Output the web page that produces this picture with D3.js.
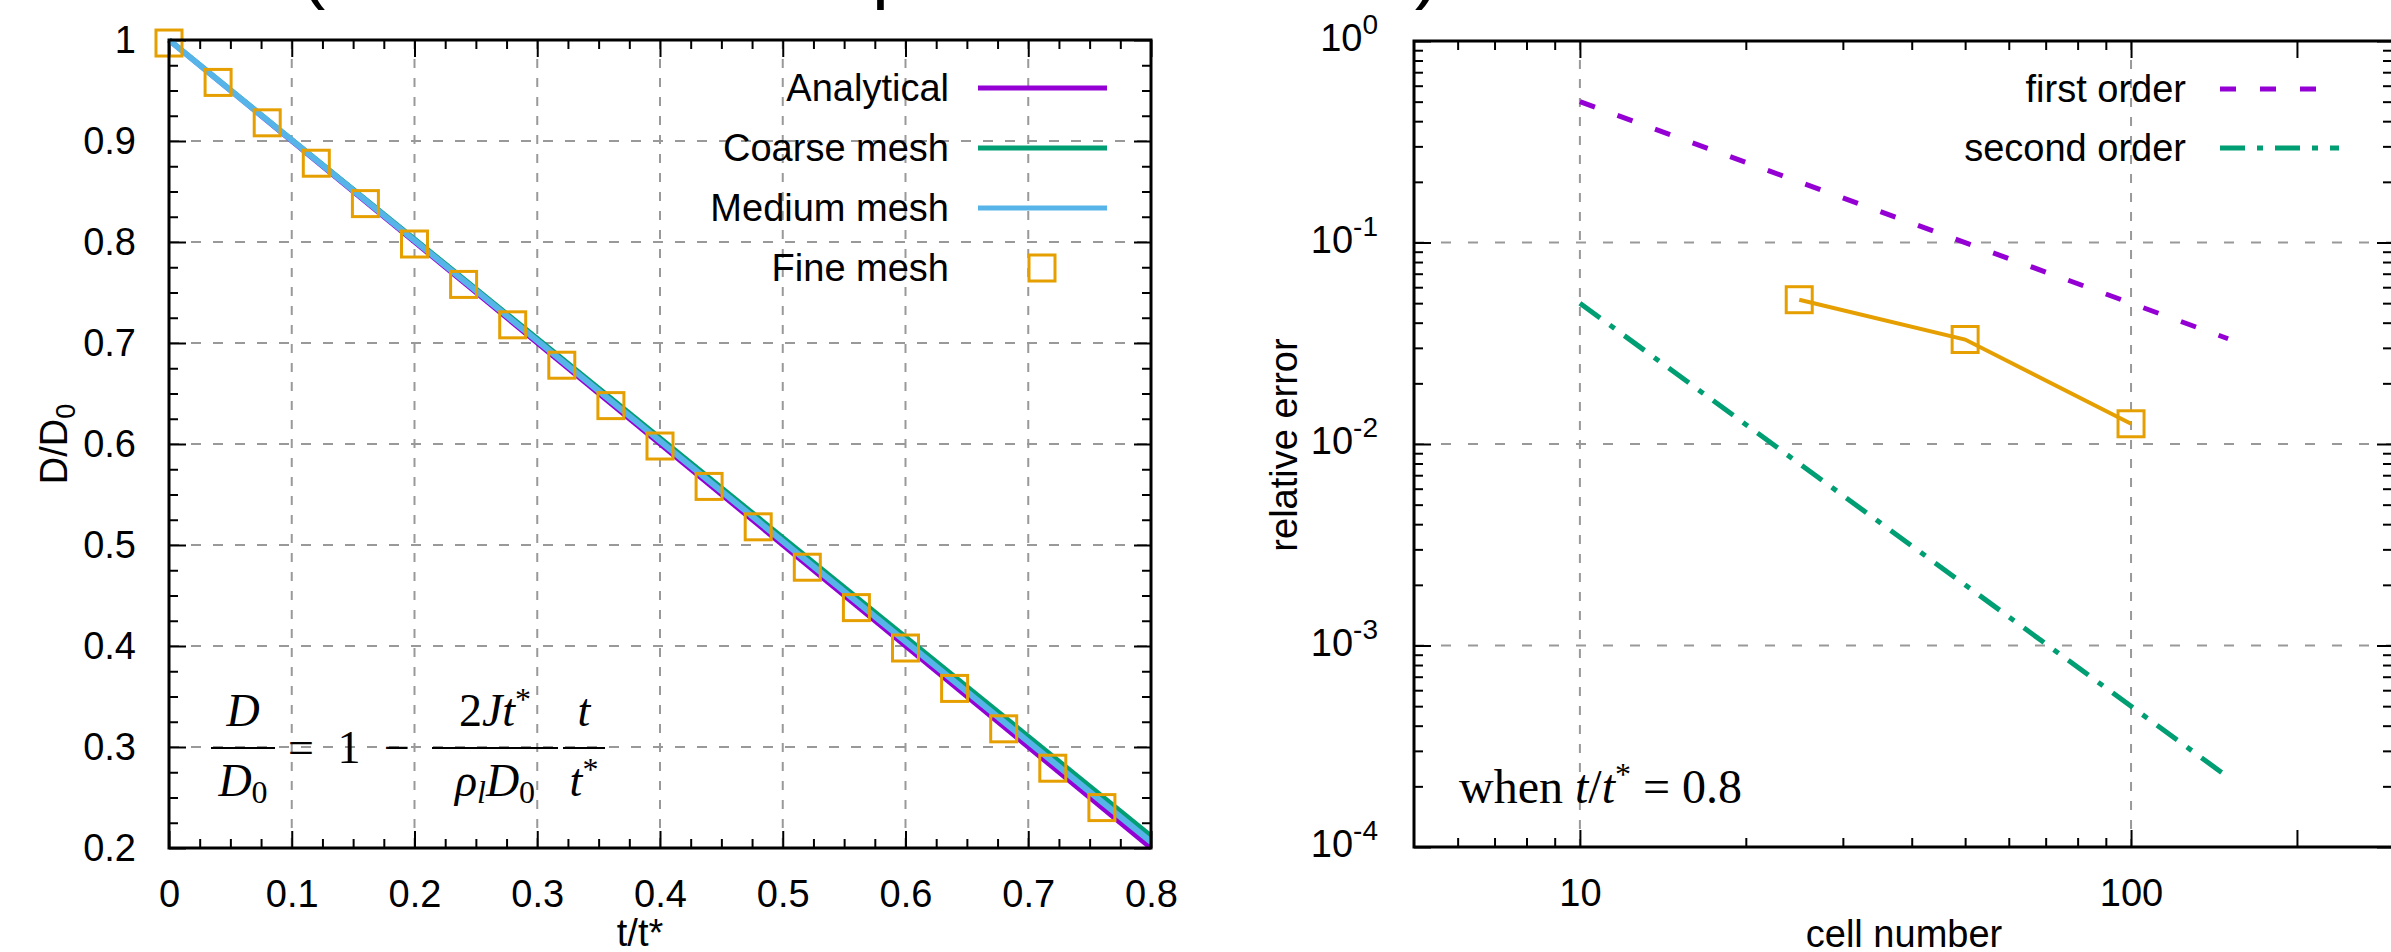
<!DOCTYPE html>
<html>
<head>
<meta charset="utf-8">
<script src="https://cdn.jsdelivr.net/npm/d3@7"></script>
<style>
  body { margin: 0; background: #fff; }
  text { font-family: "Liberation Sans", Arial, sans-serif; }
  text.math, .math text { font-family: "Liberation Serif", "Times New Roman", serif; }
</style>
</head>
<body>
<svg id="fig" width="2391" height="952"></svg>
<script>
// ---- left panel: D/D0 against t/t* ----
const tTicks = [0, 0.1, 0.2, 0.3, 0.4, 0.5, 0.6, 0.7, 0.8]
const dTicks = [0.2, 0.3, 0.4, 0.5, 0.6, 0.7, 0.8, 0.9, 1]
const analytical = [[0, 1], [0.8, 0.2]]
const coarseMesh = [[0, 1], [0.8, 0.212]]
const mediumMesh = [[0, 1], [0.8, 0.206]]
const fineT = [0, 0.04, 0.08, 0.12, 0.16, 0.2, 0.24, 0.28, 0.32, 0.36, 0.4, 0.44, 0.48, 0.52, 0.56, 0.6, 0.64, 0.68, 0.72, 0.76]
const fineD = [0.997, 0.958, 0.918, 0.878, 0.838, 0.798, 0.758, 0.718, 0.678, 0.638, 0.598, 0.558, 0.518, 0.478, 0.438, 0.398, 0.358, 0.318, 0.279, 0.24]
const leftLegend = ['Analytical', 'Coarse mesh', 'Medium mesh', 'Fine mesh']

// ---- right panel: relative error against cell number ----
const cellTicks = [10, 100, 200]
const cellLabels = [10, 100]
const errTicks = [1e-4, 1e-3, 1e-2, 1e-1, 1]
const errExp = [-4, -3, -2, -1, 0]
const firstOrder = [[10, 0.5], [150, 0.0333]]
const secondOrder = [[10, 0.05], [150, 0.000222]]
const fineCells = [25, 50, 100]
const fineErr = [0.052, 0.033, 0.0126]
const rightLegend = ['first order', 'second order']

const colors = { purple: '#9400d3', green: '#009e73', blue: '#56b4e9', orange: '#e69f00' }
const FS = 38

const svg = d3.select('#fig')

// cut-off slide title at the very top
svg.append('text').attr('x', 195).attr('y', -6).attr('text-anchor', 'end')
    .style('font-size', '76px').text('Test cases')
svg.append('text').attr('x', 300).attr('y', -6).attr('textLength', 1140)
    .style('font-size', '76px').text('(constant evaporation rate)')

function styleAxis(g, showText) {
    g.select('.domain').remove()
    g.selectAll('.tick line').attr('stroke', '#000').attr('stroke-width', 2)
    if (!showText) g.selectAll('.tick text').remove()
    else g.selectAll('.tick text').style('font-size', FS + 'px')
        .style('font-family', '"Liberation Sans", Arial, sans-serif').attr('fill', '#000')
}

function frame(x0, y0, x1, y1) {
    svg.append('rect').attr('x', x0).attr('y', y0).attr('width', x1 - x0).attr('height', y1 - y0)
        .attr('fill', 'none').attr('stroke', '#000').attr('stroke-width', 3)
}

// ================= LEFT PANEL =================
let L = { x0: 169, x1: 1151, y0: 40, y1: 848 }
let xL = d3.scaleLinear().domain([0, 0.8]).range([L.x0, L.x1])
let yL = d3.scaleLinear().domain([0.2, 1]).range([L.y1, L.y0])
let minorT = d3.range(0, 0.8001, 0.025).filter((d, i) => i % 4 != 0)
let minorD = d3.range(0.2, 1.0001, 0.025).filter((d, i) => i % 4 != 0)

// grid
let gl = svg.append('g')
gl.selectAll('.vg').data(tTicks.slice(1, -1)).enter().append('line')
    .attr('x1', d => xL(d)).attr('x2', d => xL(d)).attr('y1', L.y0).attr('y2', L.y1)
    .attr('stroke', '#999').attr('stroke-width', 2).attr('stroke-dasharray', '9,10')
gl.selectAll('.hg').data(dTicks.slice(1, -1)).enter().append('line')
    .attr('x1', L.x0).attr('x2', L.x1).attr('y1', d => yL(d)).attr('y2', d => yL(d))
    .attr('stroke', '#999').attr('stroke-width', 2).attr('stroke-dasharray', '10,12')

// ticks (inward, mirrored)
let fmt = d3.format('~g')
svg.append('g').attr('transform', `translate(0,${L.y1})`)
    .call(d3.axisBottom(xL).tickValues(tTicks).tickSize(-17).tickPadding(32).tickFormat(fmt))
    .call(g => styleAxis(g, true))
svg.append('g').attr('transform', `translate(0,${L.y1})`)
    .call(d3.axisBottom(xL).tickValues(minorT).tickSize(-9)).call(g => styleAxis(g, false))
svg.append('g').attr('transform', `translate(0,${L.y0})`)
    .call(d3.axisTop(xL).tickValues(tTicks).tickSize(-17)).call(g => styleAxis(g, false))
svg.append('g').attr('transform', `translate(0,${L.y0})`)
    .call(d3.axisTop(xL).tickValues(minorT).tickSize(-9)).call(g => styleAxis(g, false))
svg.append('g').attr('transform', `translate(${L.x0},0)`)
    .call(d3.axisLeft(yL).tickValues(dTicks).tickSize(-17).tickPadding(33).tickFormat(fmt))
    .call(g => styleAxis(g, true))
svg.append('g').attr('transform', `translate(${L.x0},0)`)
    .call(d3.axisLeft(yL).tickValues(minorD).tickSize(-9)).call(g => styleAxis(g, false))
svg.append('g').attr('transform', `translate(${L.x1},0)`)
    .call(d3.axisRight(yL).tickValues(dTicks).tickSize(-17)).call(g => styleAxis(g, false))
svg.append('g').attr('transform', `translate(${L.x1},0)`)
    .call(d3.axisRight(yL).tickValues(minorD).tickSize(-9)).call(g => styleAxis(g, false))

// formula
let fx = svg.append('g').attr('class', 'math').style('font-size', '46px')
function frac(cx, num, den, w) {
    fx.append('text').attr('x', cx).attr('y', 726).attr('text-anchor', 'middle').html(num)
    fx.append('line').attr('x1', cx - w / 2).attr('x2', cx + w / 2).attr('y1', 748).attr('y2', 748)
        .attr('stroke', '#000').attr('stroke-width', 2)
    fx.append('text').attr('x', cx).attr('y', 796).attr('text-anchor', 'middle').html(den)
}
frac(243, '<tspan font-style="italic">D</tspan>',
    '<tspan font-style="italic">D</tspan><tspan font-size="32" dy="7">0</tspan>', 64)
fx.append('text').attr('x', 288).attr('y', 763).attr('textLength', 122).text('= 1 −')
frac(495, '2<tspan font-style="italic">Jt</tspan><tspan font-size="32" dy="-16">*</tspan>',
    '<tspan font-style="italic">ρ</tspan><tspan font-size="32" font-style="italic" dy="7">l</tspan><tspan font-style="italic" dy="-7">D</tspan><tspan font-size="32" dy="7">0</tspan>', 126)
frac(584, '<tspan font-style="italic">t</tspan>',
    '<tspan font-style="italic">t</tspan><tspan font-size="32" dy="-16">*</tspan>', 42)

// data
let lineL = d3.line().x(d => xL(d[0])).y(d => yL(d[1]))
svg.append('path').datum(analytical).attr('d', lineL).attr('fill', 'none')
    .attr('stroke', colors.purple).attr('stroke-width', 5)
svg.append('path').datum(coarseMesh).attr('d', lineL).attr('fill', 'none')
    .attr('stroke', colors.green).attr('stroke-width', 5)
svg.append('path').datum(mediumMesh).attr('d', lineL).attr('fill', 'none')
    .attr('stroke', colors.blue).attr('stroke-width', 6)
svg.append('g').selectAll('rect').data(fineT).enter().append('rect')
    .attr('x', (d, i) => xL(d) - 13).attr('y', (d, i) => yL(fineD[i]) - 13)
    .attr('width', 26).attr('height', 26).attr('fill', 'none')
    .attr('stroke', colors.orange).attr('stroke-width', 3)

frame(L.x0, L.y0, L.x1, L.y1)

// legend
let lgL = svg.append('g')
leftLegend.forEach((name, i) => {
    let y = 88 + i * 60
    lgL.append('text').attr('x', 949).attr('y', y + 13).attr('text-anchor', 'end')
        .style('font-size', FS + 'px').text(name)
    if (i < 3) {
        let c = [colors.purple, colors.green, colors.blue][i]
        lgL.append('line').attr('x1', 978).attr('x2', 1107).attr('y1', y).attr('y2', y)
            .attr('stroke', c).attr('stroke-width', 5)
    } else {
        lgL.append('rect').attr('x', 1042 - 13).attr('y', y - 13).attr('width', 26).attr('height', 26)
            .attr('fill', 'none').attr('stroke', colors.orange).attr('stroke-width', 3)
    }
})

// axis titles
svg.append('text').attr('x', 640).attr('y', 946).attr('text-anchor', 'middle')
    .style('font-size', FS + 'px').text('t/t*')
svg.append('text').attr('transform', `translate(67,444) rotate(-90)`).attr('text-anchor', 'middle')
    .style('font-size', FS + 'px').html('D/D<tspan font-size="27" dy="8">0</tspan>')

// ================= RIGHT PANEL =================
let R = { x0: 1414, x1: 2394, y0: 41, y1: 847 }
let xR = d3.scaleLog().domain([5, 300]).range([R.x0, R.x1])
let yR = d3.scaleLog().domain([1e-4, 1]).range([R.y1, R.y0])
let minorC = [6, 7, 8, 9, 20, 30, 40, 50, 60, 70, 80, 90]
let minorE = []
errExp.slice(0, -1).forEach(e => { for (let k = 2; k < 10; k++) minorE.push(k * Math.pow(10, e)) })

let gr = svg.append('g')
gr.selectAll('.vg').data([10, 100]).enter().append('line')
    .attr('x1', d => xR(d)).attr('x2', d => xR(d)).attr('y1', R.y0).attr('y2', R.y1)
    .attr('stroke', '#999').attr('stroke-width', 2).attr('stroke-dasharray', '9,10')
gr.selectAll('.hg').data(errTicks.slice(1, -1)).enter().append('line')
    .attr('x1', R.x0).attr('x2', R.x1).attr('y1', d => yR(d)).attr('y2', d => yR(d))
    .attr('stroke', '#999').attr('stroke-width', 2).attr('stroke-dasharray', '10,17')

svg.append('g').attr('transform', `translate(0,${R.y1})`)
    .call(d3.axisBottom(xR).tickValues(cellTicks).tickSize(-17).tickPadding(32)
        .tickFormat(d => cellLabels.includes(d) ? d : ''))
    .call(g => styleAxis(g, true))
svg.append('g').attr('transform', `translate(0,${R.y1})`)
    .call(d3.axisBottom(xR).tickValues(minorC).tickSize(-9)).call(g => styleAxis(g, false))
svg.append('g').attr('transform', `translate(0,${R.y0})`)
    .call(d3.axisTop(xR).tickValues(cellTicks).tickSize(-17)).call(g => styleAxis(g, false))
svg.append('g').attr('transform', `translate(0,${R.y0})`)
    .call(d3.axisTop(xR).tickValues(minorC).tickSize(-9)).call(g => styleAxis(g, false))
svg.append('g').attr('transform', `translate(${R.x0},0)`)
    .call(d3.axisLeft(yR).tickValues(errTicks).tickSize(-17).tickPadding(36).tickFormat(''))
    .call(g => styleAxis(g, true))
    .call(g => g.selectAll('.tick text').each(function (d, i) {
        d3.select(this).attr('dy', '0.25em')
            .html(`10<tspan font-size="28" dy="-17">${errExp[i]}</tspan>`)
    }))
svg.append('g').attr('transform', `translate(${R.x0},0)`)
    .call(d3.axisLeft(yR).tickValues(minorE).tickSize(-9)).call(g => styleAxis(g, false))
svg.append('g').attr('transform', `translate(${R.x1},0)`)
    .call(d3.axisRight(yR).tickValues(errTicks).tickSize(-17)).call(g => styleAxis(g, false))
svg.append('g').attr('transform', `translate(${R.x1},0)`)
    .call(d3.axisRight(yR).tickValues(minorE).tickSize(-11)).call(g => styleAxis(g, false))

let lineR = d3.line().x(d => xR(d[0])).y(d => yR(d[1]))
svg.append('path').datum(firstOrder).attr('d', lineR).attr('fill', 'none')
    .attr('stroke', colors.purple).attr('stroke-width', 5).attr('stroke-dasharray', '16,24')
svg.append('path').datum(secondOrder).attr('d', lineR).attr('fill', 'none')
    .attr('stroke', colors.green).attr('stroke-width', 5).attr('stroke-dasharray', '25,12,6,12')
svg.append('path').datum(fineCells.map((c, i) => [c, fineErr[i]])).attr('d', lineR).attr('fill', 'none')
    .attr('stroke', colors.orange).attr('stroke-width', 4)
svg.append('g').selectAll('rect').data(fineCells).enter().append('rect')
    .attr('x', d => xR(d) - 13).attr('y', (d, i) => yR(fineErr[i]) - 13)
    .attr('width', 26).attr('height', 26).attr('fill', 'none')
    .attr('stroke', colors.orange).attr('stroke-width', 3)

frame(R.x0, R.y0, R.x1, R.y1)

// legend
let lgR = svg.append('g')
rightLegend.forEach((name, i) => {
    let y = 89 + i * 59
    lgR.append('text').attr('x', 2186).attr('y', y + 13).attr('text-anchor', 'end')
        .style('font-size', FS + 'px').text(name)
    lgR.append('line').attr('x1', 2220).attr('x2', 2339).attr('y1', y).attr('y2', y)
        .attr('stroke', i == 0 ? colors.purple : colors.green).attr('stroke-width', 5)
        .attr('stroke-dasharray', i == 0 ? '16,24' : '25,12,6,12')
})

// annotation
svg.append('text').attr('class', 'math').attr('x', 1459).attr('y', 803).style('font-size', '48px')
    .html('when <tspan font-style="italic">t</tspan>/<tspan font-style="italic">t</tspan><tspan font-size="32" dy="-18">*</tspan><tspan dy="18"> = 0.8</tspan>')

svg.append('text').attr('x', 1904).attr('y', 947).attr('text-anchor', 'middle')
    .style('font-size', FS + 'px').text('cell number')
svg.append('text').attr('transform', `translate(1297,445) rotate(-90)`).attr('text-anchor', 'middle')
    .style('font-size', FS + 'px').text('relative error')
</script>
</body>
</html>
